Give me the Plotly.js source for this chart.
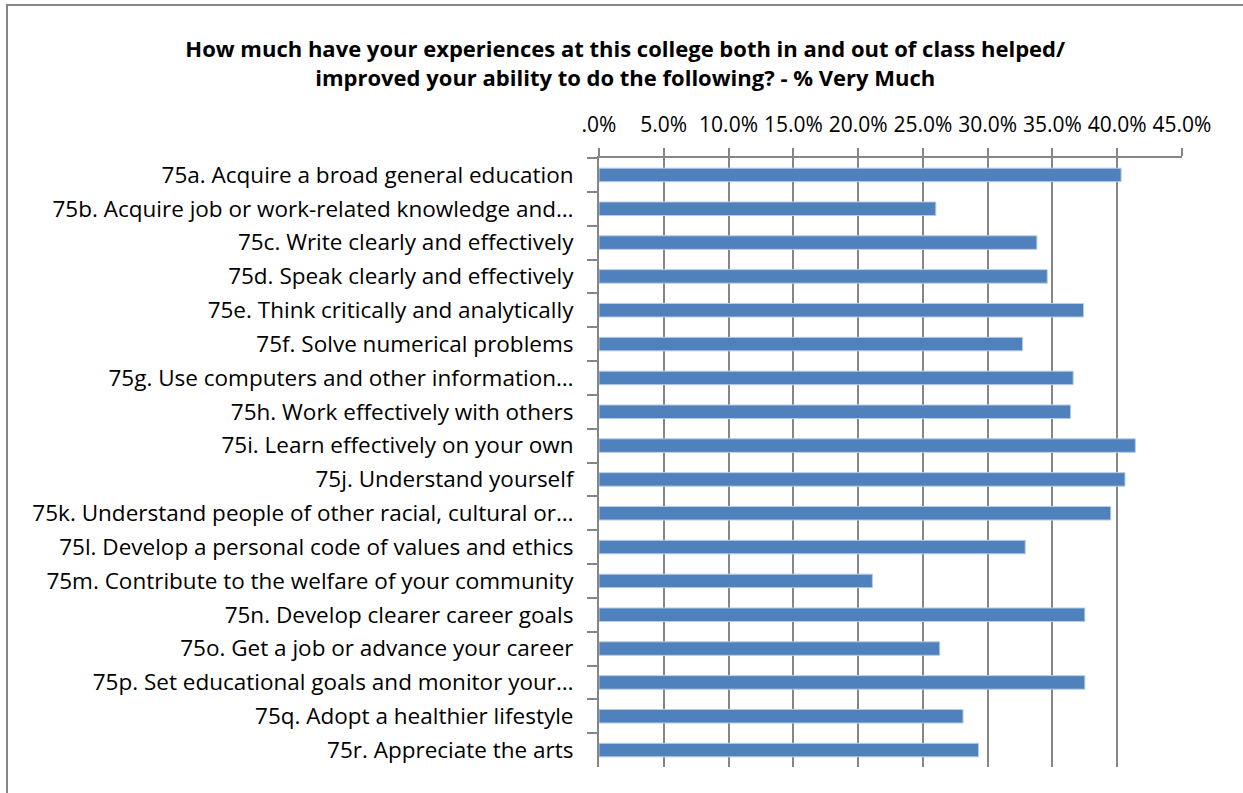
<!DOCTYPE html>
<html>
<head>
<meta charset="utf-8">
<script src="https://cdn.plot.ly/plotly-3.0.1.min.js"></script>
<style>
  html, body { margin: 0; padding: 0; background: #ffffff; overflow: hidden; }
  #chart { width: 1243px; height: 793px; position: relative; }
  #frame { position: absolute; left: 6px; top: 4px; width: 1400px; height: 1000px;
           border-left: 2px solid #868686; border-top: 2px solid #868686; pointer-events: none; }
</style>
</head>
<body>
<div id="chart"></div>
<div id="frame"></div>
<script>
const categories = [
  "75a. Acquire a broad general education",
  "75b. Acquire job or work-related knowledge and…",
  "75c. Write clearly and effectively",
  "75d. Speak clearly and effectively",
  "75e. Think critically and analytically",
  "75f. Solve numerical problems",
  "75g. Use computers and other information…",
  "75h. Work effectively with others",
  "75i. Learn effectively on your own",
  "75j. Understand yourself",
  "75k. Understand people of other racial, cultural or…",
  "75l. Develop a personal code of values and ethics",
  "75m. Contribute to the welfare of your community",
  "75n. Develop clearer career goals",
  "75o. Get a job or advance your career",
  "75p. Set educational goals and monitor your…",
  "75q. Adopt a healthier lifestyle",
  "75r. Appreciate the arts"
];
const veryMuchPct = [40.3, 26.0, 33.8, 34.6, 37.4, 32.7, 36.6, 36.4, 41.4, 40.6, 39.5, 32.9, 21.1, 37.5, 26.3, 37.5, 28.1, 29.3];
const tickValues = [0, 5, 10, 15, 20, 25, 30, 35, 40, 45];
const tickLabels = [".0%", "5.0%", "10.0%", "15.0%", "20.0%", "25.0%", "30.0%", "35.0%", "40.0%", "45.0%"];

const labelFont = "Open Sans, Liberation Sans, sans-serif";

const trace = {
  type: "bar",
  orientation: "h",
  x: veryMuchPct,
  y: categories,
  marker: { color: "#4F81BD", line: { color: "#B9CDE5", width: 1 } },
  hoverinfo: "x+y"
};

const layout = {
  width: 1243,
  height: 793,
  paper_bgcolor: "#ffffff",
  plot_bgcolor: "#ffffff",
  margin: { l: 599, r: 61, t: 158, b: 26 },
  bargap: 0.6,
  showlegend: false,
  title: {
    text: "How much have your experiences at this college both in and out of class helped/<br>improved your ability to do the following? - % Very Much",
    font: { family: labelFont, size: 22, color: "#000000", weight: "bold" },
    x: 0.503, xref: "container", xanchor: "center",
    y: 1 - 57 / 793, yref: "container", yanchor: "middle"
  },
  xaxis: {
    side: "top",
    range: [0, 45],
    tickvals: tickValues,
    ticktext: tickLabels,
    showgrid: true,
    gridcolor: "#868686",
    gridwidth: 2,
    showline: true,
    linecolor: "#868686",
    linewidth: 2,
    ticks: "outside",
    ticklen: 8,
    tickwidth: 2,
    tickcolor: "#868686",
    ticklabelstandoff: 8,
    tickfont: { family: labelFont, size: 21, color: "#000000" },
    zeroline: false,
    fixedrange: true
  },
  yaxis: {
    type: "category",
    autorange: "reversed",
    showline: true,
    linecolor: "#868686",
    linewidth: 2,
    ticks: "outside",
    tickson: "boundaries",
    ticklen: 10,
    tickwidth: 2,
    tickcolor: "#868686",
    ticklabelstandoff: 19,
    tickfont: { family: labelFont, size: 22.5, color: "#000000" },
    showgrid: false,
    zeroline: false,
    fixedrange: true
  }
};

Plotly.newPlot("chart", [trace], layout, { displayModeBar: false });
</script>
</body>
</html>
